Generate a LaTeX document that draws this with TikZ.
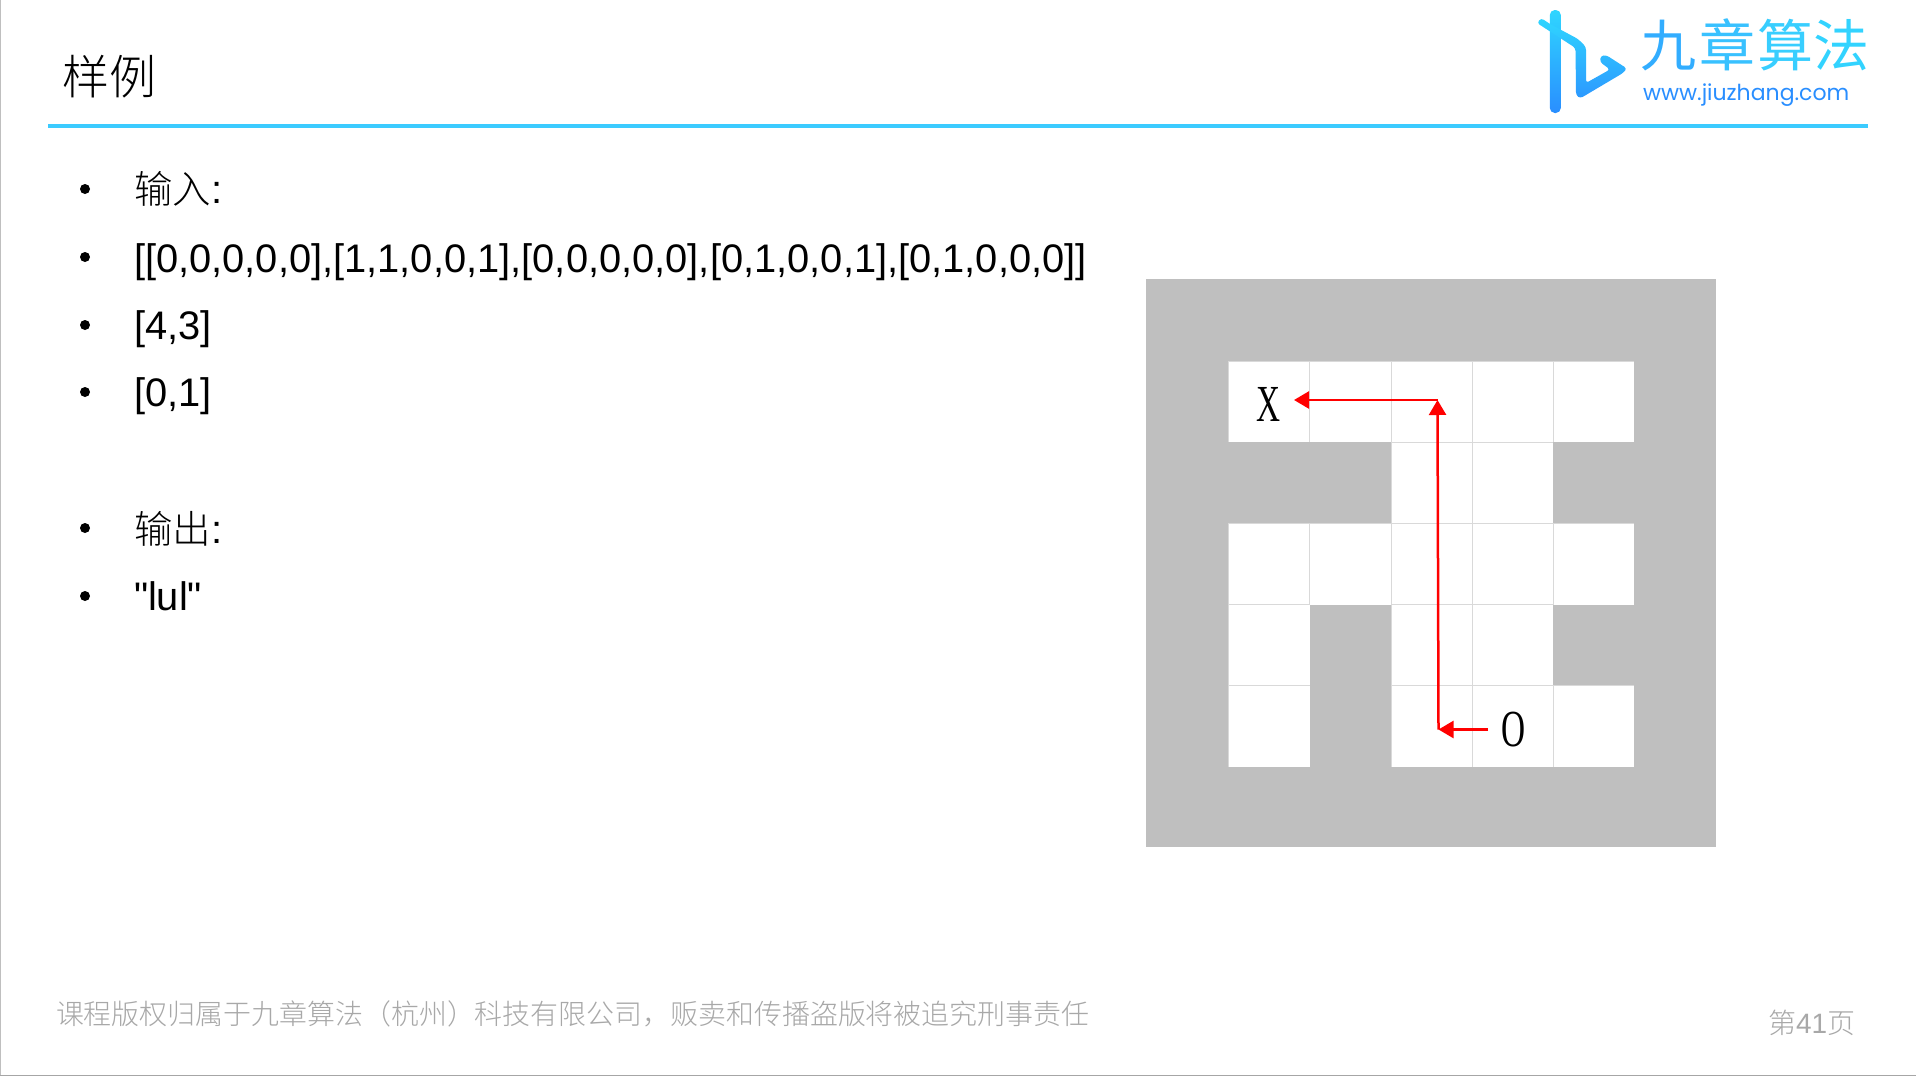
\documentclass[tikz,border=0pt]{standalone}
\usepackage{fontspec}
\usetikzlibrary{arrows.meta}
\setmainfont{Liberation Sans}
\newfontfamily\plainsans{Liberation Sans}
\newfontfamily\cjk{Noto Sans CJK SC}[UprightFont=* Light]
\newfontfamily\cjkreg{Noto Sans CJK SC}
\newfontfamily\serifx{Liberation Serif}
\newfontfamily\logofont{Poppins}
\definecolor{brand}{HTML}{3BCBFF}
\definecolor{wall}{HTML}{BFBFBF}
\definecolor{gridc}{HTML}{D9D9D9}
\definecolor{foot}{HTML}{A8A8A8}
\newcommand{\fs}[1]{\fontsize{#1}{#1}\selectfont}
\tikzset{
  txt/.style={inner sep=0pt,outer sep=0pt,anchor=base west},
  bodytext/.style={txt,text=black,font=\plainsans\fs{39.85}},
  bul/.style={circle,fill=black,inner sep=0pt,minimum size=10pt},
  redarrow/.style={draw=red,line width=2.5pt,-{Triangle[length=15pt,width=17pt]}},
  logochar/.style={txt,font=\cjkreg\fs{56}},
  gridlabel/.style={inner sep=0pt,text=black,font=\serifx\fs{52},xscale=0.64}
}
\begin{document}
\begin{tikzpicture}[x=1pt,y=-1pt]
\useasboundingbox (0,0) rectangle (1916,1076);
\fill[white] (0,0) rectangle (1916,1076);
% slide edges
\draw[line width=1.5pt,draw=gray!50] (0.7,0) -- (0.7,1076);
\draw[line width=1.5pt,draw=gray!70] (0,1075.3) -- (1916,1075.3);
% header
\node[txt,font=\cjk\fs{47}] (title) at (62,94) {样例};
\coordinate (ruleL) at (48,126);
\coordinate (ruleR) at (1868,126);
\draw[draw=brand,line width=3.4pt] (ruleL) -- (ruleR);
% logo
\shade[top color=brand!80!cyan,bottom color=blue!30!brand,rounded corners=5pt]
  (1549.8,10) rectangle (1560.8,113);
\shade[top color=brand!80!cyan,bottom color=blue!25!brand,rounded corners=3pt]
  (1537,23) -- (1541,18) -- (1550,24) -- (1578,39) -- (1586,47) -- (1586,83) -- (1610,69.5)
  -- (1600,62) -- (1600.5,56) -- (1606,55) -- (1627,68.5) -- (1623,73) -- (1580,98.5)
  -- (1576,95) -- (1575.5,48) -- cycle;
\node[logochar,text=brand!85!blue] (l1) at (1640,66) {九};
\node[logochar,text=brand!95!blue] (l2) at (1699,66) {章};
\node[logochar,text=brand!95!cyan] (l3) at (1757,66) {算};
\node[logochar,text=brand!85!cyan] (l4) at (1813,66) {法};
\node[txt,font=\logofont\fs{22},text=brand!70!blue] (url) at (1643,100) {www.jiuzhang.com};
% body
\foreach \n/\y in {a/189,b/257,c/325,d/392,e/528,f/596}{
  \node[bul] (b\n) at (85,\y) {};
}
\node[txt,font=\cjk\fs{38.5}] (t1) at (134,203) {输入\plainsans\fs{40}:};
\node[bodytext] (t2) at (134,272) {[[0,0,0,0,0],[1,1,0,0,1],[0,0,0,0,0],[0,1,0,0,1],[0,1,0,0,0]]};
\node[bodytext] (t3) at (134,339.5) {[4,3]};
\node[bodytext] (t4) at (134,406.5) {[0,1]};
\node[txt,font=\cjk\fs{38.5}] (t5) at (134,543) {输出\plainsans\fs{40}:};
\node[bodytext] (t6) at (134,610.5) {"lul"};
% grid
\fill[wall] (1146,278.6) rectangle (1716,846.6);
\foreach \r/\cols in {0/{0,1,2,3,4},1/{2,3},2/{0,1,2,3,4},3/{0,2,3},4/{0,2,3,4}}{
  \foreach \c in \cols {
    \fill[white] ({1228.7+81.15*\c},{361+81.2*\r}) rectangle ++(81.15,81.2);
  }
}
\foreach \r/\cols in {0/{0,1,2,3,4},1/{2,3},2/{0,1,2,3,4},3/{0,2,3},4/{0,2,3,4}}{
  \foreach \c in \cols {
    \draw[draw=gridc,line width=0.8pt] ({1228.7+81.15*\c},{361+81.2*\r}) -- ++(0,81.2);
    \draw[draw=gridc,line width=0.8pt] ({1228.7+81.15*\c},{361+81.2*\r}) -- ++(81.15,0);
  }
}
% repaint outer boundary against walls
\fill[wall] (1146,278.6) rectangle (1716,360.6);
\fill[wall] (1146,278.6) rectangle (1228.3,846.6);
\fill[wall] (1634.6,278.6) rectangle (1716,846.6);
\node[gridlabel] (X) at (1268.5,404) {X};
\node[gridlabel] (O) at (1513,730) {O};
\coordinate (start) at (1488,729.5);
\coordinate (c1) at (1438.5,729.5);
\coordinate (c2) at (1437.5,400);
\coordinate (end) at (1294,400);
\draw[redarrow] (start) -- (c1);
\draw[redarrow] (c1) -- (c2);
\draw[redarrow] (c2) -- (end);
% footer
\node[txt,font=\cjk\fs{27.93},text=foot] (copy) at (56,1024) {课程版权归属于九章算法（杭州）科技有限公司，贩卖和传播盗版将被追究刑事责任};
\node[txt,font=\cjk\fs{28},text=foot] (page) at (1768,1033) {第{\plainsans 41}页};
\end{tikzpicture}
\end{document}
